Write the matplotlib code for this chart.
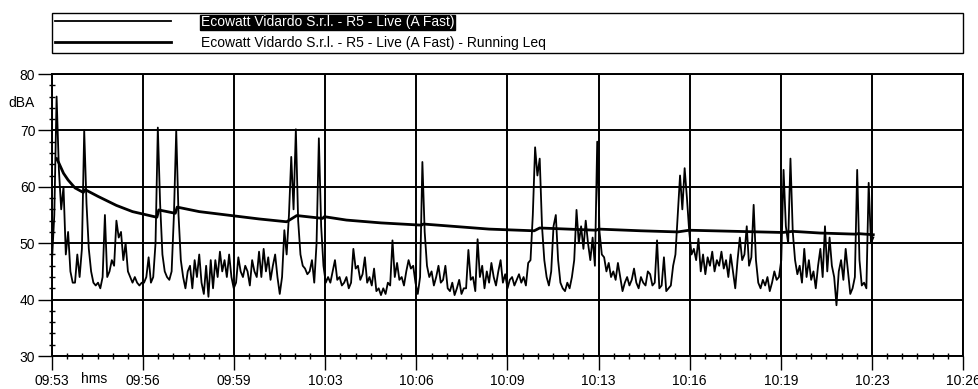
import numpy as np
import matplotlib
matplotlib.use("Agg")
import matplotlib.pyplot as plt
from matplotlib.ticker import MultipleLocator

plt.rcParams['font.family'] = ['Liberation Sans', 'DejaVu Sans']

# ---------------- data ----------------
live_label = "Ecowatt Vidardo S.r.l. - R5 - Live (A Fast)"
leq_label = "Ecowatt Vidardo S.r.l. - R5 - Live (A Fast) - Running Leq"

sample_step_s = 5  # seconds between live samples, starting 09:53:20

live_dba = [
    47, 55, 76, 63, 56, 60, 48, 52, 45, 43,
    43, 48, 44, 49, 70, 57, 49, 45, 43, 42.5,
    43, 42, 44, 55, 44, 45, 47, 46, 54, 51,
    52, 47, 50, 45, 44, 43, 44, 43, 42.5, 43,
    43, 44, 47.5, 43, 44, 50, 70.5, 57, 48, 45,
    44, 43.5, 45, 55, 70, 55, 47, 44, 42, 45,
    46, 42, 47, 44, 48, 43, 41, 46, 40.5, 47,
    42, 47, 44, 48.5, 45, 47, 44, 48, 44, 42,
    43, 47.5, 45, 44, 46, 45, 42.5, 47, 45, 44,
    48.5, 44, 49, 45, 47.5, 43.5, 46, 48, 44, 41,
    44, 52.3, 48, 55, 65.3, 56, 70.2, 54, 48, 46,
    45.5, 44.5, 45, 47, 43, 50, 68.6, 53, 46, 43,
    44, 43, 45, 47, 43.5, 44, 42.5, 43, 44, 42,
    43, 49, 45.5, 46, 43.5, 44.5, 47.5, 43, 44, 42.5,
    45.5, 41.5, 42, 40.8, 42, 41, 43, 42.5, 50.5, 44,
    46.5, 43.5, 44, 42.5, 45, 47, 45.5, 46, 43, 41,
    44, 64.4, 52, 46, 44, 45, 42.5, 44, 46, 43,
    43.5, 46, 42, 41.5, 43, 40.8, 42, 43.5, 41, 42,
    42, 48.8, 43.5, 44, 41.5, 50.7, 44, 46, 42, 45,
    43, 46.5, 44, 42.5, 45, 47, 43, 44.5, 42, 43.5,
    44, 42.5, 43.5, 44.5, 43, 44, 42.5, 46.5, 47, 55,
    67, 62, 65, 53, 47, 44, 42.5, 45, 53, 55,
    47, 43, 42, 41.5, 43, 42, 44, 47, 55.9, 50,
    53, 49, 54, 50, 47, 51, 46, 68, 52, 48,
    47.5, 45, 46.5, 44, 45, 43.5, 46.5, 44, 41.5, 43,
    44, 42.5, 43.5, 45.5, 43, 42, 44, 43, 42.5, 45,
    44.5, 42.5, 43, 50.5, 42, 42.5, 47.5, 41.5, 42, 42.5,
    46, 48, 55, 62, 56, 63.3, 58, 52, 48, 49,
    47, 50.8, 45, 48, 44.5, 47.5, 46, 48.5, 45, 47,
    46, 48.5, 45.5, 47, 44, 48, 45, 42, 47, 51,
    47, 48, 53, 46, 47.5, 56.8, 47, 43, 42, 43.5,
    42.5, 44, 41.5, 43, 45, 43.5, 44, 47, 63, 53,
    50, 65, 52, 47, 44.5, 46, 43, 49, 44, 47,
    43.5, 45, 42, 46, 49, 44, 53, 45, 51, 46,
    44, 39, 45, 47, 43.5, 49, 45, 41, 42, 44,
    63, 47, 42.5, 43, 42, 60.7, 50, 51,
]

leq_time_s = [10, 15, 25, 35, 50, 68, 72, 100, 140, 175, 212, 228, 232, 268, 272,
              320, 400, 450, 510, 520, 532, 588, 592, 640, 715, 803, 807, 950,
              1048, 1060, 1183, 1188, 1280, 1360, 1385, 1588, 1610, 1670, 1748,
              1752, 1785]
leq_dba = [65.0, 64.2, 62.4, 61.2, 59.8, 59.0, 59.5, 58.3, 56.7, 55.6, 54.9, 54.6,
           55.9, 55.3, 56.4, 55.6, 54.8, 54.3, 53.8, 54.3, 54.9, 54.4, 54.7, 54.1,
           53.6, 53.2, 53.4, 52.5, 52.2, 52.7, 52.3, 52.5, 52.2, 52.0, 52.3, 51.9,
           52.1, 51.8, 51.6, 51.7, 51.5]

x_tick_labels = ["09:53", "09:56", "09:59", "10:03", "10:06", "10:09",
                 "10:13", "10:16", "10:19", "10:23", "10:26"]
x_tick_step_s = 198
y_ticks = [30, 40, 50, 60, 70, 80]

# ---------------- figure ----------------
W, H = 979, 389
fig = plt.figure(figsize=(W / 100, H / 100), dpi=100)
L, R, T, B = 52, 963, 74, 356
ax = fig.add_axes([L / W, 1 - B / H, (R - L) / W, (B - T) / H])

t = np.arange(len(live_dba)) * sample_step_s
ax.plot(t, live_dba, color='black', lw=1.3, label=live_label, zorder=3)
ax.plot(leq_time_s, leq_dba, color='black', lw=2.0, label=leq_label, zorder=4)

ax.set_xlim(0, x_tick_step_s * (len(x_tick_labels) - 1))
ax.set_ylim(y_ticks[0], y_ticks[-1])
ax.set_xticks(np.arange(len(x_tick_labels)) * x_tick_step_s)
ax.set_xticklabels(x_tick_labels)
ax.xaxis.set_minor_locator(MultipleLocator(x_tick_step_s / 6))
ax.set_yticks(y_ticks)
ax.yaxis.set_minor_locator(MultipleLocator(2))

ax.grid(True, which='major', color='black', lw=1.4, zorder=1)
ax.set_axisbelow(True)
for s in ax.spines.values():
    s.set_linewidth(1.4)
ax.tick_params(which='major', direction='out', length=10, width=1,
               labelsize=10, colors='black')
ax.tick_params(axis='x', which='major', pad=3)
ax.tick_params(axis='y', which='major', pad=2)
ax.tick_params(which='minor', direction='inout', length=5, width=1)

fig.text(22 / W, 1 - 103 / H, "dBA", ha='center', va='center', fontsize=10)
fig.text(94 / W, 1 - 379 / H, "hms", ha='center', va='center', fontsize=10)

leg = ax.legend(loc='lower left', bbox_to_anchor=(0, 1 + (T - 53) / (B - T), 1, 0.1),
                mode='expand', borderaxespad=0, fontsize=10, frameon=True,
                fancybox=False, edgecolor='black', framealpha=1,
                handlelength=8.4, handletextpad=2.1, labelspacing=0.5,
                borderpad=0.2)
leg.get_frame().set_linewidth(1.0)
txts = leg.get_texts()
txts[0].set_color('white')
txts[0].set_bbox(dict(facecolor='black', edgecolor='black', pad=0.5))

fig.savefig('out.png', dpi=100, facecolor='white')
